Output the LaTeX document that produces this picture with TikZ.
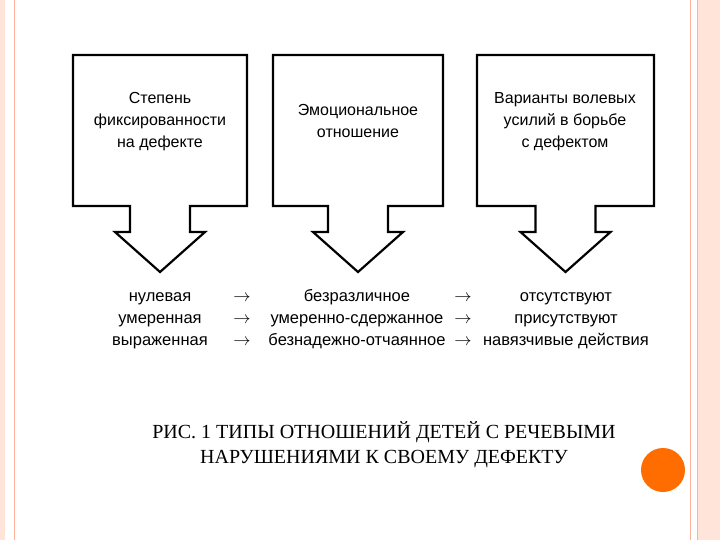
\documentclass[tikz,border=0pt]{standalone}
\usepackage{fontspec}
\setmainfont{Liberation Sans}
\newfontfamily\capfont{Liberation Serif}
\begin{document}
\begin{tikzpicture}[x=1pt,y=-1pt,
  shp/.style={draw=black,line width=2.2pt,fill=white,line join=miter},
  lbl/.style={font=\fontsize{16}{22}\selectfont,align=center,inner sep=0},
  row/.style={font=\fontsize{16.5}{20}\selectfont,inner sep=0,anchor=base}]
\useasboundingbox (0,0) rectangle (720,540);
\fill[white] (0,0) rectangle (720,540);
% slide borders
\fill[red!40!orange!15] (0,0) rectangle (5,540);
\draw[red!50!orange!40,line width=1pt] (14,0) -- (14,540);
\fill[red!40!orange!15] (697,0) rectangle (720,540);
\draw[red!50!orange!40,line width=1pt] (690,0) -- (690,540);
\draw[red!50!orange!40,line width=1pt] (697,0) -- (697,540);
% box-arrows
\foreach \l/\r/\n in {73/247/a,273/443/b,477/654/c}{
  \pgfmathsetmacro{\m}{(\l+\r)/2}
  \draw[shp] (\l,55) -- (\r,55) -- (\r,206) -- (\m+30,206) -- (\m+30,232) -- (\m+45,232)
    -- (\m,272) -- (\m-45,232) -- (\m-30,232) -- (\m-30,206) -- (\l,206) -- cycle;
}
\node[lbl] (ta) at (160,122) {Степень\\фиксированности\\на дефекте};
\node[lbl] (tb) at (358,121) {Эмоциональное\\отношение};
\node[lbl] (tc) at (565,122) {Варианты волевых\\усилий в борьбе\\с дефектом};
% rows
\foreach \y/\a/\b/\c in {301/нулевая/безразличное/отсутствуют,
  323/умеренная/умеренно-сдержанное/присутствуют,
  345/выраженная/безнадежно-отчаянное/навязчивые действия}{
  \node[row] at (160,\y) {\a};
  \node[row] at (242,\y) {$\rightarrow$};
  \node[row] at (357,\y) {\b};
  \node[row] at (463,\y) {$\rightarrow$};
  \node[row] at (566,\y) {\c};
}
\node[font=\capfont\fontsize{20}{25}\selectfont,align=center,inner sep=0] (cap) at (384,445)
  {РИС. 1 ТИПЫ ОТНОШЕНИЙ ДЕТЕЙ С РЕЧЕВЫМИ\\НАРУШЕНИЯМИ К СВОЕМУ ДЕФЕКТУ};
\fill[orange!85!red] (663,470) circle (22);
\end{tikzpicture}
\end{document}
